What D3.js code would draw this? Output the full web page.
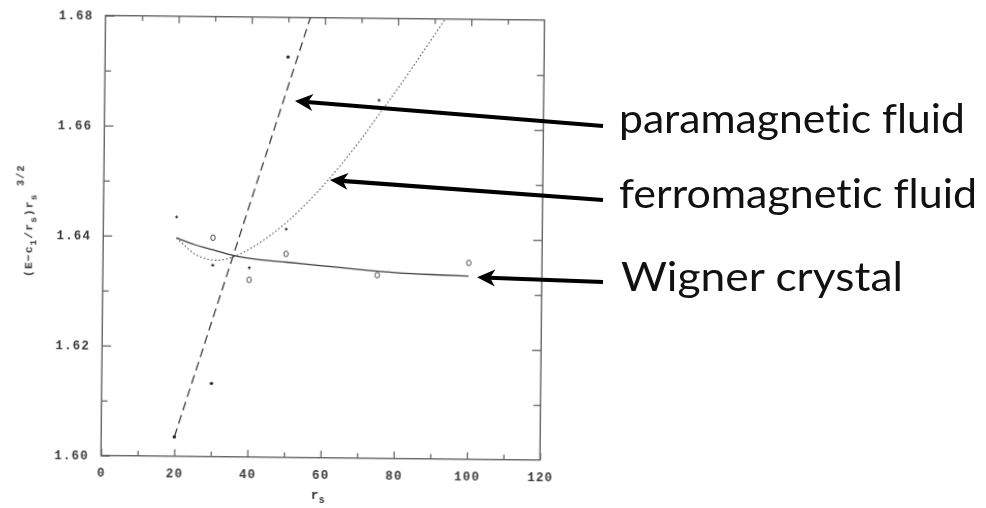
<!DOCTYPE html>
<html><head><meta charset="utf-8">
<script src="https://cdn.jsdelivr.net/npm/d3@7"></script>
<style>html,body{margin:0;padding:0;background:#fff;} svg{display:block}</style>
</head><body><svg id="chart" width="986" height="508"></svg>
<script>
// Axis ticks
const xTicks = [0, 20, 40, 60, 80, 100, 120];
const xMinorTicks = [10, 30, 50, 70, 90, 110];
const yTicks = [1.60, 1.62, 1.64, 1.66, 1.68];
const yMinorTicks = [1.61, 1.63, 1.65, 1.67];

// Wigner crystal: computed energies (open symbols) and fitted curve (solid)
const wignerRs = [30, 40, 50, 75, 100];
const wignerE = [1.6398, 1.6322, 1.6370, 1.6333, 1.6357];
const wignerFitRs = [20, 25, 30, 35, 40, 50, 60, 70, 80, 90, 100];
const wignerFitE = [1.6397, 1.6385, 1.6376, 1.6367, 1.6361, 1.6355, 1.6349, 1.6343, 1.6338, 1.6335, 1.6333];

// Ferromagnetic fluid: energies (small crosses) and fitted curve (dotted)
const ferroRs = [20, 30, 40, 50, 75];
const ferroE = [1.6435, 1.6348, 1.6344, 1.6415, 1.6651];
const ferroFitRs = [20, 22, 25, 28, 31, 35, 40, 45, 50, 55, 60, 65, 70, 75, 80, 85, 90, 93];
const ferroFitE = [1.6397, 1.6385, 1.6368, 1.6360, 1.6357, 1.6362, 1.6378, 1.6400, 1.6427, 1.6459,
                   1.6495, 1.6535, 1.6578, 1.6625, 1.6672, 1.6721, 1.6771, 1.6801];

// Paramagnetic fluid: energies (filled dots) and fitted line (dashed)
const paraRs = [20, 30, 50];
const paraE = [1.6035, 1.6133, 1.6728];
const paraFitRs = [20, 56];
const paraFitE = [1.6035, 1.6800];

// Annotation labels and the point on each curve that its arrow touches
const phaseLabels = ["paramagnetic fluid", "ferromagnetic fluid", "Wigner crystal"];
const arrowRs = [52, 61.8, 102.3];
const arrowE = [1.6648, 1.6505, 1.6331];

const svg = d3.select("#chart");
svg.append("rect").attr("width", 986).attr("height", 508).attr("fill", "#fff");

const defs = svg.append("defs");
defs.append("filter").attr("id", "soft")
  .append("feGaussianBlur").attr("stdDeviation", 0.35);

// Frame of the plotted figure (slightly tilted, as printed)
const frameL = 103.25, frameR = 542.25, frameT = 17.75, frameB = 457.75;
const cx = (frameL + frameR) / 2, cy = (frameT + frameB) / 2, tilt = 0.6;

const x = d3.scaleLinear().domain([0, 120]).range([frameL, frameR]);
const y = d3.scaleLinear().domain([1.60, 1.68]).range([frameB, frameT]);

defs.append("clipPath").attr("id", "plotClip")
  .append("rect").attr("x", frameL).attr("y", frameT)
  .attr("width", frameR - frameL).attr("height", frameB - frameT);

const fig = svg.append("g")
  .attr("transform", `rotate(${tilt},${cx},${cy})`)
  .attr("filter", "url(#soft)");

// frame
fig.append("rect").attr("x", frameL).attr("y", frameT)
  .attr("width", frameR - frameL).attr("height", frameB - frameT)
  .attr("fill", "none").attr("stroke", "#5a5a5a").attr("stroke-width", 1.3);

const tickFont = "'Liberation Mono', 'DejaVu Sans Mono', monospace";

function styleAxis(g) {
  g.select(".domain").remove();
  g.selectAll(".tick line").attr("stroke", "#5a5a5a").attr("stroke-width", 1.2);
  g.selectAll(".tick text")
    .attr("fill", "#3a3a3a")
    .style("font-family", tickFont)
    .style("font-size", "12.5px")
    .style("font-weight", "bold")
    .style("letter-spacing", "1.2px");
}

// bottom axis
fig.append("g").attr("transform", `translate(0,${frameB})`)
  .call(d3.axisBottom(x).tickValues(xTicks).tickSize(-7).tickPadding(12).tickFormat(d3.format("d")))
  .call(styleAxis);
fig.append("g").attr("transform", `translate(0,${frameB})`)
  .call(d3.axisBottom(x).tickValues(xMinorTicks).tickSize(-5).tickFormat(""))
  .call(styleAxis);
// top axis
fig.append("g").attr("transform", `translate(0,${frameT})`)
  .call(d3.axisTop(x).tickValues(xTicks.slice(1, -1)).tickSize(-7).tickFormat(""))
  .call(styleAxis);
fig.append("g").attr("transform", `translate(0,${frameT})`)
  .call(d3.axisTop(x).tickValues(xMinorTicks).tickSize(-5).tickFormat(""))
  .call(styleAxis);
// left axis
fig.append("g").attr("transform", `translate(${frameL},0)`)
  .call(d3.axisLeft(y).tickValues(yTicks).tickSize(-9).tickPadding(12).tickFormat(d3.format(".2f")))
  .call(styleAxis);
fig.append("g").attr("transform", `translate(${frameL},0)`)
  .call(d3.axisLeft(y).tickValues(yMinorTicks).tickSize(-6).tickFormat(""))
  .call(styleAxis);
// right axis
fig.append("g").attr("transform", `translate(${frameR},0)`)
  .call(d3.axisRight(y).tickValues(yTicks.slice(1, -1)).tickSize(-9).tickFormat(""))
  .call(styleAxis);
fig.append("g").attr("transform", `translate(${frameR},0)`)
  .call(d3.axisRight(y).tickValues(yMinorTicks).tickSize(-7).tickFormat(""))
  .call(styleAxis);

// axis titles
const xt = fig.append("text")
  .attr("x", x(57.5)).attr("y", frameB + 41)
  .attr("fill", "#3a3a3a")
  .style("font-family", tickFont).style("font-size", "13px").style("font-weight", "bold");
xt.append("tspan").text("r");
xt.append("tspan").attr("dy", 4).style("font-size", "10px").text("s");

const yt = fig.append("text")
  .attr("transform", `translate(${frameL - 71},${y(1.6323)}) rotate(-90)`)
  .attr("fill", "#3a3a3a")
  .style("font-family", tickFont).style("font-size", "11.5px").style("font-weight", "bold")
  .style("letter-spacing", "1px");
yt.append("tspan").text("(E\u2212c");
yt.append("tspan").attr("dy", 4).style("font-size", "9.5px").text("1");
yt.append("tspan").attr("dy", -4).text("/r");
yt.append("tspan").attr("dy", 4).style("font-size", "9.5px").text("s");
yt.append("tspan").attr("dy", -4).text(")r");
yt.append("tspan").attr("dy", 4).style("font-size", "9.5px").text("s");
yt.append("tspan").attr("dy", -13).style("font-size", "10.5px").text(" 3/2");

// curves
const plot = fig.append("g").attr("clip-path", "url(#plotClip)");
const line = d3.line().x(d => x(d[0])).y(d => y(d[1]));
const smooth = d3.line().x(d => x(d[0])).y(d => y(d[1])).curve(d3.curveMonotoneX);

plot.append("path").datum(d3.zip(wignerFitRs, wignerFitE))
  .attr("d", smooth).attr("fill", "none").attr("stroke", "#3c3c3c").attr("stroke-width", 1.3);
plot.append("path").datum(d3.zip(ferroFitRs, ferroFitE))
  .attr("d", smooth).attr("fill", "none").attr("stroke", "#555").attr("stroke-width", 1.1)
  .attr("stroke-dasharray", "1.6,2.2");
plot.append("path").datum(d3.zip(paraFitRs, paraFitE))
  .attr("d", line).attr("fill", "none").attr("stroke", "#3c3c3c").attr("stroke-width", 1.3)
  .attr("stroke-dasharray", "9,5");

// data symbols
plot.selectAll(".wig").data(d3.zip(wignerRs, wignerE)).join("ellipse")
  .attr("cx", d => x(d[0])).attr("cy", d => y(d[1]))
  .attr("rx", 2.2).attr("ry", 2.8)
  .attr("fill", "#fff").attr("stroke", "#444").attr("stroke-width", 1);
plot.selectAll(".fer").data(d3.zip(ferroRs, ferroE)).join("path")
  .attr("transform", d => `translate(${x(d[0])},${y(d[1])})`)
  .attr("d", "M-1.6,0H1.6M0,-1.6V1.6")
  .attr("stroke", "#333").attr("stroke-width", 1.1);
plot.selectAll(".par").data(d3.zip(paraRs, paraE)).join("circle")
  .attr("cx", d => x(d[0])).attr("cy", d => y(d[1]))
  .attr("r", 1.7).attr("fill", "#222");

// page position of a data point inside the tilted figure
function toPage(rs, e) {
  const px = x(rs) - cx, py = y(e) - cy, a = tilt * Math.PI / 180;
  return [cx + px * Math.cos(a) - py * Math.sin(a), cy + px * Math.sin(a) + py * Math.cos(a)];
}

// labels with arrows
const labelX = 619, labelBaselines = [133, 208, 291], labelWidths = [346, 358, 282];
const tailX = 603, tailY = [126, 200, 282];
const ann = svg.append("g");
phaseLabels.forEach((name, i) => {
  const tip = toPage(arrowRs[i], arrowE[i]);
  const tail = [tailX, tailY[i]];
  const ang = Math.atan2(tail[1] - tip[1], tail[0] - tip[0]) * 180 / Math.PI;
  const g = ann.append("g").attr("transform", `translate(${tip[0]},${tip[1]}) rotate(${ang})`);
  const len = Math.hypot(tail[0] - tip[0], tail[1] - tip[1]);
  g.append("line").attr("x1", 12).attr("y1", 0).attr("x2", len).attr("y2", 0)
    .attr("stroke", "#000").attr("stroke-width", 4.2);
  g.append("path").attr("d", "M0,0 L18,-8.5 L13,0 L18,8.5 Z").attr("fill", "#000");
  ann.append("text").attr("x", labelX + (i === 2 ? 2 : 0)).attr("y", labelBaselines[i])
    .attr("textLength", labelWidths[i]).attr("lengthAdjust", "spacingAndGlyphs")
    .attr("fill", "#111")
    .style("font-family", "Lato, 'Open Sans', sans-serif").style("font-size", "41px")
    .style("font-variant-ligatures", "none")
    .style("font-feature-settings", "'liga' 0, 'clig' 0")
    .text(name);
});
</script></body></html>
